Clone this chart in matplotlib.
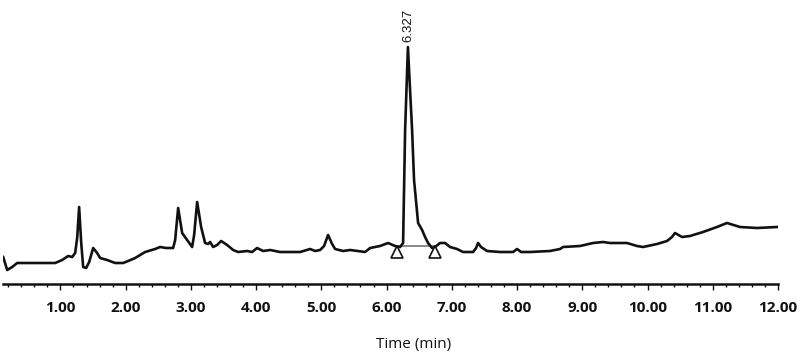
import numpy as np
import matplotlib
matplotlib.use("Agg")
import matplotlib.pyplot as plt
from matplotlib.ticker import MultipleLocator, FormatStrFormatter

# =========================
# DATA
# =========================

time_min = [
    0.123, 0.184, 0.261, 0.337, 0.582, 0.920, 1.027, 1.119, 1.180, 1.226,
    1.257, 1.287, 1.318, 1.349, 1.395, 1.441, 1.502, 1.563, 1.609, 1.716,
    1.839, 1.962, 2.038, 2.146, 2.299, 2.452, 2.529, 2.621, 2.728, 2.759,
    2.805, 2.866, 2.943, 3.019, 3.050, 3.096, 3.157, 3.218, 3.264, 3.295,
    3.341, 3.402, 3.464, 3.556, 3.648, 3.724, 3.862, 3.939, 4.015, 4.107,
    4.215, 4.368, 4.674, 4.828, 4.904, 4.981, 5.042, 5.103, 5.165, 5.211,
    5.333, 5.441, 5.670, 5.747, 5.900, 6.023, 6.130, 6.207, 6.253, 6.284,
    6.327, 6.360, 6.391, 6.421, 6.483, 6.544, 6.590, 6.636, 6.697, 6.743,
    6.820, 6.897, 6.973, 7.080, 7.172, 7.326, 7.372, 7.402, 7.448, 7.540,
    7.739, 7.939, 8.000, 8.061, 8.199, 8.506, 8.659, 8.705, 8.966, 9.165,
    9.318, 9.425, 9.686, 9.839, 9.931, 10.146, 10.299, 10.375, 10.421, 10.529,
    10.651, 10.851, 11.065, 11.218, 11.418, 11.678, 11.985,
]

signal = [
    27, 14, 17, 21, 21, 21, 24, 28, 27, 31,
    46, 77, 42, 17, 16, 22, 36, 31, 26, 24,
    21, 21, 23, 26, 32, 35, 37, 36, 36, 44,
    76, 51, 44, 37, 49, 82, 57, 41, 40, 42,
    37, 39, 43, 39, 34, 32, 33, 32, 36, 33,
    34, 32, 32, 35, 33, 34, 38, 49, 40, 35,
    33, 34, 32, 36, 38, 41, 38, 37, 41, 154,
    237, 194, 154, 104, 61, 54, 47, 41, 36, 37,
    41, 41, 37, 35, 32, 32, 36, 41, 37, 33,
    32, 32, 35, 32, 32, 33, 35, 37, 38, 41,
    42, 41, 41, 38, 37, 40, 43, 47, 51, 47,
    48, 52, 57, 61, 57, 56, 57,
]

peak_rt = 6.327
peak_height = 237
integ_start = 6.16
integ_end = 6.74
integ_level = 32

# =========================
# PLOT
# =========================

plt.rcParams['font.family'] = ['Open Sans', 'DejaVu Sans']

fig = plt.figure(figsize=(8.04, 3.54), dpi=100)
ax = fig.add_axes([3 / 804, 70 / 354, 775 / 804, 284 / 354])

ax.plot(time_min, signal, color='#111111', lw=1.9, solid_joinstyle='round', zorder=3)

# integration baseline + markers
ax.plot([integ_start, integ_end], [integ_level + 6, integ_level + 6],
        color='#8a8a8a', lw=1.4, zorder=2)
ax.plot([integ_start, integ_end], [integ_level, integ_level], ls='none',
        marker='^', ms=8.5, mfc='white', mec='#111111', mew=1.2, zorder=4)

# peak label
ax.text(peak_rt, peak_height + 5, f"{peak_rt:.3f}", rotation=90,
        ha='center', va='bottom', fontsize=9.5, color='#111111',
        family=['Liberation Sans', 'DejaVu Sans'])

ax.set_xlim(0.12, 12.0)
ax.set_ylim(0, 284)

for side in ['top', 'left', 'right']:
    ax.spines[side].set_visible(False)
ax.spines['bottom'].set_linewidth(1.8)
ax.spines['bottom'].set_color('#111111')

ax.set_xticks(np.arange(1, 13))
ax.xaxis.set_minor_locator(MultipleLocator(0.2))
ax.xaxis.set_major_formatter(FormatStrFormatter('%.2f'))
ax.tick_params(axis='x', which='major', length=4.5, width=1.0, pad=8,
               labelsize=11, colors='#111111')
ax.tick_params(axis='x', which='minor', length=2.5, width=1.0, colors='#111111')
for lbl in ax.get_xticklabels():
    lbl.set_fontweight('bold')
ax.set_yticks([])

fig.text(414 / 804, 1 - 348 / 354, "Time (min)", ha='center', va='baseline',
         fontsize=11, color='#111111')

fig.savefig("out.png", dpi=100)
plt.close(fig)
